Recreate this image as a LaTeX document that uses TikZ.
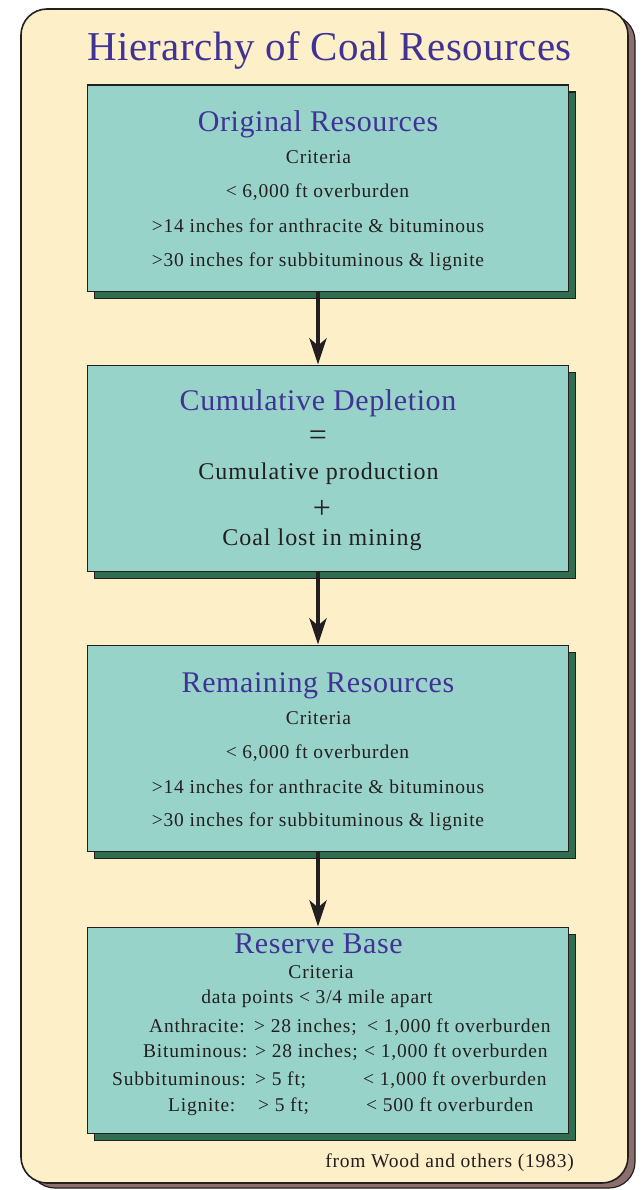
\documentclass[tikz,border=0pt]{standalone}
\usepackage{fontspec}
\setmainfont{Liberation Serif}
\newfontfamily\titlefont[LetterSpace=1]{Liberation Serif}
\newfontfamily\headfont[LetterSpace=2]{Liberation Serif}
\newfontfamily\bodyfont[LetterSpace=4]{Liberation Serif}
\usetikzlibrary{arrows.meta}

\definecolor{cream}{RGB}{253,239,200}
\definecolor{tealbox}{RGB}{152,211,201}
\definecolor{boxshade}{RGB}{47,110,80}
\definecolor{frameshade}{RGB}{140,110,108}
\definecolor{headblue}{RGB}{65,50,150}
\definecolor{ink}{RGB}{35,31,32}

\tikzset{
  framebox/.style={draw=ink, line width=1.6pt, fill=cream, rounded corners=26pt},
  frameshadow/.style={draw=ink, line width=1.2pt, fill=frameshade, rounded corners=26pt},
  stagebox/.style={draw=ink, line width=1.4pt, fill=tealbox, anchor=north west,
    minimum width=481pt, minimum height=206pt, inner sep=0pt},
  stageshadow/.style={stagebox, fill=boxshade},
  flow/.style={draw=ink, line width=4.5pt,
    -{Stealth[length=26pt, width=17pt, inset=7pt]}},
  titletext/.style={anchor=base, inner sep=0pt, text=headblue,
    font=\titlefont\fontsize{41}{41}\selectfont},
  headtext/.style={anchor=base, inner sep=0pt, text=headblue,
    font=\headfont\fontsize{30}{30}\selectfont},
  bodytext/.style={anchor=base, inner sep=0pt, text=ink,
    font=\bodyfont\fontsize{19.5}{19.5}\selectfont},
  bigtext/.style={anchor=base, inner sep=0pt, text=ink,
    font=\bodyfont\fontsize{24}{24}\selectfont},
  symtext/.style={anchor=center, inner sep=0pt, text=ink,
    font=\bodyfont\fontsize{32}{32}\selectfont},
  rowtext/.style={bodytext, anchor=base west},
}

\begin{document}
\begin{tikzpicture}[x=1pt, y=-1pt]
\useasboundingbox (0,0) rectangle (642,1190);

% outer card with its drop shadow
\path[frameshadow] (29,15) rectangle (635,1188);
\path[framebox] (21,9) rectangle (628,1183);

\node[titletext] (title) at (329.5,61) {Hierarchy of Coal Resources};

% the four stage boxes, each over its shadow
\node[stageshadow] (s1) at (93.5,91.5) {};
\node[stagebox] (b1) at (86.5,84.5) {};
\node[stageshadow] (s2) at (93.5,371.5) {};
\node[stagebox] (b2) at (86.5,364.5) {};
\node[stageshadow] (s3) at (93.5,651.5) {};
\node[stagebox] (b3) at (86.5,644.5) {};
\node[stageshadow] (s4) at (93.5,933.5) {};
\node[stagebox] (b4) at (86.5,926.5) {};

% connectors
\coordinate (axis) at (318,0);
\draw[flow] (b1.south -| axis) -- (b2.north -| axis);
\draw[flow] (b2.south -| axis) -- (b3.north -| axis);
\draw[flow] (b3.south -| axis) -- (b4.north -| axis);

% Original Resources
\node[headtext] (h1) at (318,132) {Original Resources};
\node[bodytext] (c1) at (318.5,164) {Criteria};
\node[bodytext] (c1a) at (317.5,198) {< 6,000 ft overburden};
\node[bodytext] (c1b) at (318,233) {>14 inches for anthracite \& bituminous};
\node[bodytext] (c1c) at (318,266) {>30 inches for subbituminous \& lignite};

% Cumulative Depletion
\node[headtext] (h2) at (318,410) {Cumulative Depletion};
\node[symtext] (eq) at (318,438) {=};
\node[bigtext] (p2a) at (318.5,479) {Cumulative production};
\node[symtext] (plus) at (322,509.5) {+};
\node[bigtext] (p2b) at (322,545) {Coal lost in mining};

% Remaining Resources
\node[headtext] (h3) at (318,692) {Remaining Resources};
\node[bodytext] (c3) at (318.5,724) {Criteria};
\node[bodytext] (c3a) at (317.5,758) {< 6,000 ft overburden};
\node[bodytext] (c3b) at (318,793) {>14 inches for anthracite \& bituminous};
\node[bodytext] (c3c) at (318,826) {>30 inches for subbituminous \& lignite};

% Reserve Base
\node[headtext] (h4) at (318.5,953) {Reserve Base};
\node[bodytext] (c4) at (321,978) {Criteria};
\node[bodytext] (c4a) at (317,1003) {data points < 3/4 mile apart};

\node[rowtext] (r1a) at (149,1032) {Anthracite:};
\node[rowtext] (r1b) at (254,1032) {> 28 inches;};
\node[rowtext] (r1c) at (367,1032) {< 1,000 ft overburden};
\node[rowtext] (r2a) at (143,1057) {Bituminous:};
\node[rowtext] (r2b) at (255,1057) {> 28 inches;};
\node[rowtext] (r2c) at (364,1057) {< 1,000 ft overburden};
\node[rowtext] (r3a) at (112,1085) {Subbituminous:};
\node[rowtext] (r3b) at (255,1085) {> 5 ft;};
\node[rowtext] (r3c) at (363,1085) {< 1,000 ft overburden};
\node[rowtext] (r4a) at (168,1111) {Lignite:};
\node[rowtext] (r4b) at (258,1111) {> 5 ft;};
\node[rowtext] (r4c) at (366,1111) {< 500 ft overburden};

\node[bodytext, anchor=base east] (src) at (574,1167) {from Wood and others (1983)};
\end{tikzpicture}
\end{document}
